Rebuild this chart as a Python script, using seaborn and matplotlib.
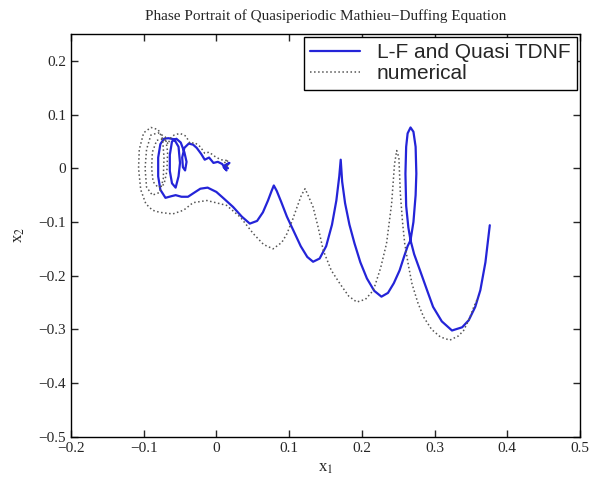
import numpy as np
import pandas as pd
import matplotlib
matplotlib.use("Agg")
import matplotlib.pyplot as plt
from matplotlib.ticker import FuncFormatter
import seaborn as sns

# L-F and Quasi TDNF trajectory (x1, x2)
lf_x1 = [0.016, 0.012, 0.018, 0.010, 0.014, 0.008, 0.002, -0.004, -0.010, -0.016,
         -0.021, -0.027, -0.032, -0.038, -0.044, -0.047, -0.046, -0.043, -0.041, -0.044,
         -0.049, -0.055, -0.061, -0.064, -0.064, -0.061, -0.056, -0.052, -0.050, -0.052,
         -0.058, -0.066, -0.072, -0.077, -0.080, -0.080, -0.077, -0.070, -0.062, -0.056,
         -0.048, -0.039, -0.030, -0.022, -0.012, 0.000, 0.010, 0.023, 0.035, 0.046,
         0.056, 0.064, 0.071, 0.076, 0.079, 0.083, 0.089, 0.097, 0.106, 0.116,
         0.125, 0.133, 0.142, 0.151, 0.159, 0.165, 0.169, 0.171, 0.173, 0.177,
         0.183, 0.190, 0.198, 0.207, 0.217, 0.227, 0.236, 0.244, 0.252, 0.258,
         0.263, 0.267, 0.271, 0.274, 0.275, 0.274, 0.271, 0.267, 0.263, 0.261,
         0.260, 0.261, 0.264, 0.267, 0.272, 0.280, 0.290, 0.298, 0.310, 0.324,
         0.338, 0.347, 0.356, 0.363, 0.370, 0.376]
lf_x2 = [0.000, 0.006, 0.010, 0.002, -0.004, 0.008, 0.012, 0.010, 0.020, 0.016,
         0.027, 0.038, 0.044, 0.046, 0.038, 0.020, 0.002, -0.004, 0.012, 0.030,
         0.048, 0.055, 0.050, 0.025, -0.005, -0.028, -0.036, -0.015, 0.010, 0.040,
         0.054, 0.056, 0.055, 0.045, 0.020, -0.015, -0.040, -0.055, -0.052, -0.050,
         -0.053, -0.053, -0.045, -0.038, -0.036, -0.044, -0.056, -0.072, -0.090, -0.103,
         -0.098, -0.082, -0.060, -0.042, -0.032, -0.042, -0.062, -0.090, -0.116, -0.145,
         -0.165, -0.174, -0.168, -0.145, -0.105, -0.060, -0.015, 0.016, -0.025, -0.065,
         -0.105, -0.140, -0.175, -0.205, -0.228, -0.239, -0.232, -0.214, -0.190, -0.165,
         -0.145, -0.134, -0.100, -0.050, -0.010, 0.040, 0.068, 0.076, 0.065, 0.040,
         -0.010, -0.070, -0.110, -0.134, -0.160, -0.190, -0.228, -0.258, -0.285, -0.302,
         -0.296, -0.283, -0.258, -0.227, -0.175, -0.106]

# numerical solution (x1, x2)
num_x1 = [0.016, 0.011, 0.017, 0.006, -0.002, -0.010, -0.016, -0.022, -0.030, -0.036,
          -0.042, -0.050, -0.058, -0.064, -0.066, -0.072, -0.082, -0.088, -0.089, -0.087,
          -0.080, -0.072, -0.068, -0.067, -0.070, -0.080, -0.090, -0.096, -0.098, -0.096,
          -0.088, -0.078, -0.073, -0.072, -0.074, -0.080, -0.090, -0.100, -0.106, -0.107,
          -0.104, -0.097, -0.088, -0.078, -0.060, -0.045, -0.032, -0.013, 0.014, 0.033,
          0.051, 0.065, 0.078, 0.090, 0.097, 0.105, 0.111, 0.117, 0.122, 0.126,
          0.133, 0.140, 0.147, 0.158, 0.170, 0.182, 0.193, 0.205, 0.216, 0.226,
          0.234, 0.241, 0.245, 0.248, 0.251, 0.253, 0.256, 0.259, 0.264, 0.269,
          0.277, 0.285, 0.296, 0.308, 0.321, 0.333, 0.340, 0.348, 0.354, 0.360]
num_x2 = [0.004, 0.012, 0.014, 0.016, 0.022, 0.030, 0.028, 0.040, 0.048, 0.046,
          0.060, 0.065, 0.062, 0.055, 0.045, 0.055, 0.052, 0.030, 0.000, -0.025,
          -0.036, -0.030, -0.005, 0.030, 0.058, 0.066, 0.062, 0.035, 0.000, -0.035,
          -0.050, -0.045, -0.020, 0.020, 0.055, 0.072, 0.076, 0.066, 0.035, 0.000,
          -0.040, -0.066, -0.078, -0.082, -0.085, -0.078, -0.064, -0.060, -0.069, -0.091,
          -0.122, -0.142, -0.150, -0.138, -0.122, -0.095, -0.072, -0.050, -0.038, -0.050,
          -0.072, -0.110, -0.153, -0.190, -0.215, -0.238, -0.249, -0.244, -0.227, -0.185,
          -0.140, -0.066, 0.008, 0.033, 0.020, -0.047, -0.100, -0.140, -0.180, -0.215,
          -0.250, -0.277, -0.300, -0.314, -0.320, -0.312, -0.302, -0.280, -0.258, -0.240]

lf = pd.DataFrame({"x1": lf_x1, "x2": lf_x2})
num = pd.DataFrame({"x1": num_x1, "x2": num_x2})

sns.set_style("ticks")
plt.rcParams["font.family"] = ["Liberation Serif", "DejaVu Serif"]
plt.rcParams["mathtext.fontset"] = "stix"

fig, ax = plt.subplots(figsize=(6.01, 4.79), dpi=100)
fig.subplots_adjust(left=0.118, right=0.965, top=0.929, bottom=0.088)

sns.lineplot(data=lf, x="x1", y="x2", sort=False, estimator=None, ax=ax,
             color="#2424d8", linewidth=1.6, label="L-F and Quasi TDNF")
sns.lineplot(data=num, x="x1", y="x2", sort=False, estimator=None, ax=ax,
             color="#555555", linewidth=1.1, linestyle=":", label="numerical")

ax.set_xlim(-0.2, 0.5)
ax.set_ylim(-0.5, 0.25)
ax.set_xticks(np.arange(-0.2, 0.51, 0.1))
ax.set_yticks(np.arange(-0.5, 0.21, 0.1))


def tick_fmt(v, p):
    v = round(v, 2) + 0.0
    if abs(v) < 1e-9:
        return "0"
    return f"{v:g}".replace("-", "\u2212")


ax.xaxis.set_major_formatter(FuncFormatter(tick_fmt))
ax.yaxis.set_major_formatter(FuncFormatter(tick_fmt))
ax.tick_params(direction="in", top=True, right=True, labelsize=11, length=5, width=1)
for s in ax.spines.values():
    s.set_linewidth(1)
    s.set_color("black")

ax.set_title("Phase Portrait of Quasiperiodic Mathieu\u2212Duffing Equation", fontsize=11, pad=10)
ax.set_xlabel("x$_1$", fontsize=12, labelpad=4)
ax.set_ylabel("x$_2$", fontsize=12, labelpad=8)

leg = ax.legend(loc="upper right", fancybox=False, framealpha=1, edgecolor="black",
                prop={"family": "Liberation Sans", "size": 15}, borderaxespad=0.15,
                handlelength=2.4, borderpad=0.3, labelspacing=0.1, handletextpad=0.8)
leg.get_frame().set_linewidth(1)

fig.savefig("out.png", dpi=100)
